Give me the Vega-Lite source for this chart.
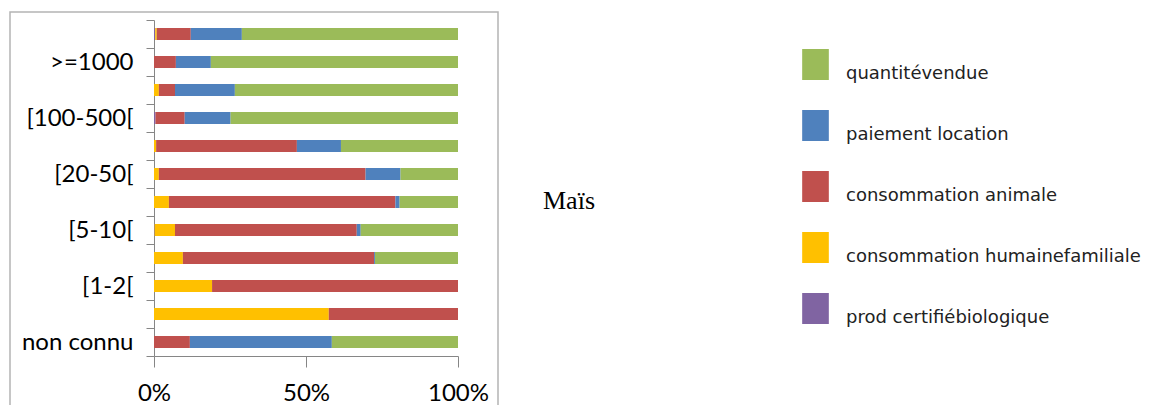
{
  "$schema": "https://vega.github.io/schema/vega-lite/v6.json",
  "autosize": {"type": "none"},
  "padding": {"left": 10, "top": 12, "right": 665, "bottom": 0},
  "width": 488,
  "height": 400,
  "background": "white",
  "view": {"stroke": "#b4b4b4", "strokeWidth": 1.5},
  "title": {"text": "Maïs", "orient": "top", "anchor": "start", "frame": "group", "offset": 0, "dx": 533, "dy": 235, "baseline": "alphabetic", "font": "Liberation Serif", "fontSize": 26, "fontWeight": "normal", "color": "#000000"},
  "data": {"values": [
    {"cat": "Total", "type": "prod certifiébiologique", "v": 0.4},
    {"cat": "Total", "type": "consommation humainefamiliale", "v": 0.5},
    {"cat": "Total", "type": "consommation animale", "v": 11.2},
    {"cat": "Total", "type": "paiement location", "v": 16.8},
    {"cat": "Total", "type": "quantitévendue", "v": 71.1},
    {"cat": ">=1000", "type": "consommation animale", "v": 7.2},
    {"cat": ">=1000", "type": "paiement location", "v": 11.5},
    {"cat": ">=1000", "type": "quantitévendue", "v": 81.3},
    {"cat": "[500-1000[", "type": "consommation humainefamiliale", "v": 1.6},
    {"cat": "[500-1000[", "type": "consommation animale", "v": 5.3},
    {"cat": "[500-1000[", "type": "paiement location", "v": 19.7},
    {"cat": "[500-1000[", "type": "quantitévendue", "v": 73.4},
    {"cat": "[100-500[", "type": "prod certifiébiologique", "v": 0.5},
    {"cat": "[100-500[", "type": "consommation animale", "v": 9.6},
    {"cat": "[100-500[", "type": "paiement location", "v": 15.1},
    {"cat": "[100-500[", "type": "quantitévendue", "v": 74.8},
    {"cat": "[50-100[", "type": "consommation humainefamiliale", "v": 0.7},
    {"cat": "[50-100[", "type": "consommation animale", "v": 46.3},
    {"cat": "[50-100[", "type": "paiement location", "v": 14.5},
    {"cat": "[50-100[", "type": "quantitévendue", "v": 38.5},
    {"cat": "[20-50[", "type": "consommation humainefamiliale", "v": 1.6},
    {"cat": "[20-50[", "type": "consommation animale", "v": 68.0},
    {"cat": "[20-50[", "type": "paiement location", "v": 11.5},
    {"cat": "[20-50[", "type": "quantitévendue", "v": 18.9},
    {"cat": "[10-20[", "type": "consommation humainefamiliale", "v": 4.9},
    {"cat": "[10-20[", "type": "consommation animale", "v": 74.5},
    {"cat": "[10-20[", "type": "paiement location", "v": 1.4},
    {"cat": "[10-20[", "type": "quantitévendue", "v": 19.2},
    {"cat": "[5-10[", "type": "prod certifiébiologique", "v": 0.2},
    {"cat": "[5-10[", "type": "consommation humainefamiliale", "v": 6.7},
    {"cat": "[5-10[", "type": "consommation animale", "v": 59.8},
    {"cat": "[5-10[", "type": "paiement location", "v": 1.3},
    {"cat": "[5-10[", "type": "quantitévendue", "v": 32.0},
    {"cat": "[2-5[", "type": "consommation humainefamiliale", "v": 9.5},
    {"cat": "[2-5[", "type": "consommation animale", "v": 62.9},
    {"cat": "[2-5[", "type": "paiement location", "v": 0.3},
    {"cat": "[2-5[", "type": "quantitévendue", "v": 27.3},
    {"cat": "[1-2[", "type": "consommation humainefamiliale", "v": 19.1},
    {"cat": "[1-2[", "type": "consommation animale", "v": 80.9},
    {"cat": "]0-1[", "type": "consommation humainefamiliale", "v": 57.5},
    {"cat": "]0-1[", "type": "consommation animale", "v": 42.5},
    {"cat": "non connu", "type": "consommation animale", "v": 11.8},
    {"cat": "non connu", "type": "paiement location", "v": 46.7},
    {"cat": "non connu", "type": "quantitévendue", "v": 41.5}
  ]},
  "transform": [
    {"calculate": "indexof(['prod certifiébiologique','consommation humainefamiliale','consommation animale','paiement location','quantitévendue'], datum.type)", "as": "o"}
  ],
  "mark": {"type": "bar", "height": {"band": 0.43}},
  "encoding": {
    "y": {
      "field": "cat", "type": "nominal",
      "sort": ["Total", ">=1000", "[500-1000[", "[100-500[", "[50-100[", "[20-50[", "[10-20[", "[5-10[", "[2-5[", "[1-2[", "]0-1[", "non connu"],
      "scale": {"range": [8, 344], "paddingInner": 0, "paddingOuter": 0},
      "axis": {
        "title": null, "orient": "left", "offset": -144, "tickBand": "extent", "tickSize": 8,
        "tickColor": "#868686", "domainColor": "#868686", "grid": false,
        "labelFont": "Lato", "labelFontSize": 24, "labelColor": "#000000", "labelPadding": 13,
        "labelExpr": "indexof(['non connu','[1-2[','[5-10[','[20-50[','[100-500[','>=1000'], datum.value) >= 0 ? datum.value : ''"
      }
    },
    "x": {
      "field": "v", "type": "quantitative", "stack": "normalize",
      "scale": {"range": [144, 448], "domain": [0, 1]},
      "axis": {
        "title": null, "orient": "bottom", "offset": -56, "values": [0, 0.5, 1], "format": "%",
        "tickSize": 11, "tickColor": "#868686", "domainColor": "#868686", "grid": false, "labelFlush": false,
        "labelFont": "Lato", "labelFontSize": 24, "labelColor": "#000000", "labelPadding": 14
      }
    },
    "color": {
      "field": "type", "type": "nominal",
      "scale": {
        "domain": ["quantitévendue", "paiement location", "consommation animale", "consommation humainefamiliale", "prod certifiébiologique"],
        "range": ["#9BBB59", "#4F81BD", "#C0504D", "#FFC000", "#8064A2"]
      },
      "legend": {
        "orient": "none", "legendX": 790, "legendY": 37, "title": null, "padding": 0,
        "symbolType": "M-0.86,-1H0.86V1H-0.86Z", "symbolSize": 961, "symbolStrokeWidth": 0, "symbolOpacity": 1,
        "labelFont": "DejaVu Sans", "labelFontSize": 18, "labelColor": "#222222", "labelOffset": 15,
        "labelBaseline": "top", "rowPadding": 27, "labelLimit": 400
      }
    },
    "order": {"field": "o", "type": "quantitative"}
  }
}
